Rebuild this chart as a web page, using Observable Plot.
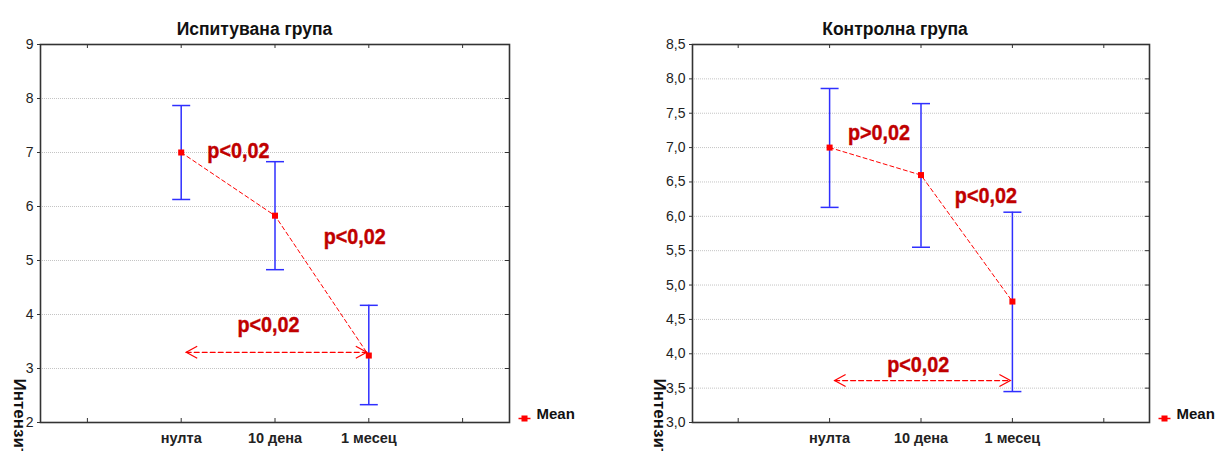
<!DOCTYPE html>
<html><head><meta charset="utf-8">
<script src="https://cdn.jsdelivr.net/npm/d3@7"></script>
<script src="https://cdn.jsdelivr.net/npm/@observablehq/plot@0.6"></script>
<style>
body{margin:0;background:#fff;}
#wrap{display:flex;width:1215px;height:451px;overflow:hidden;}
</style></head><body><div id="wrap"></div>
<script>
// ---- data ----
const categories = ["нулта", "10 дена", "1 месец"];
const xTickSlots = [0, 1, 2, 3, 4];

const leftTitle = "Испитувана група";
const leftMeans = [7.0, 5.83, 3.24];
const leftUpper = [7.87, 6.83, 4.17];
const leftLower = [6.13, 4.83, 2.33];
const leftYTicks = [2, 3, 4, 5, 6, 7, 8, 9];
const leftPLabels = ["p<0,02", "p<0,02", "p<0,02"];
const leftPX = [1.61, 2.85, 1.93];
const leftPY = [7.03, 5.43, 3.80];
const leftArrowY = 3.30;

const rightTitle = "Контролна група";
const rightMeans = [7.0, 6.6, 4.76];
const rightUpper = [7.86, 7.64, 6.06];
const rightLower = [6.13, 5.55, 3.45];
const rightYTicks = [3.0, 3.5, 4.0, 4.5, 5.0, 5.5, 6.0, 6.5, 7.0, 7.5, 8.0, 8.5];
const rightPLabels = ["p>0,02", "p<0,02", "p<0,02"];
const rightPX = [1.54, 2.71, 1.97];
const rightPY = [7.22, 6.29, 3.84];
const rightArrowY = 3.61;

const yLabel = "Интензитет";
const legendLabel = "Mean";

// ---- styles ----
const BLUE = "#2f2fff", RED = "#ff0000", DARKRED = "#c00000";
const FONT = "'Liberation Sans', Arial, sans-serif";

const capSymbol = {draw(ctx) { ctx.moveTo(-9, 0); ctx.lineTo(9, 0); }};
const headLeft = {draw(ctx) { ctx.moveTo(11, -6); ctx.lineTo(0, 0); ctx.lineTo(11, 6); }};
const headRight = {draw(ctx) { ctx.moveTo(-11, -6); ctx.lineTo(0, 0); ctx.lineTo(-11, 6); }};
const legendLine = {draw(ctx) { ctx.moveTo(-6, 0); ctx.lineTo(6, 0); }};

function panel(cfg) {
  const H = 451, mt = 44, mb = 29;
  const fw = cfg.width - cfg.ml - cfg.mr, fh = H - mt - mb;
  const rows = categories.map((c, i) => ({x: i + 1, mean: cfg.means[i], lo: cfg.lower[i], hi: cfg.upper[i]}));
  const labels = cfg.pLabels.map((t, i) => ({t, x: cfg.pX[i], y: cfg.pY[i]}));
  const y0 = cfg.yTicks[0], y1 = cfg.yTicks[cfg.yTicks.length - 1];
  const inner = cfg.yTicks.slice(1, -1);
  const arrow = [{x1: 1, x2: categories.length, y: cfg.arrowY}];
  const svg = Plot.plot({
    width: cfg.width, height: H,
    marginLeft: cfg.ml, marginRight: cfg.mr, marginTop: mt, marginBottom: mb,
    style: {fontFamily: FONT, fontSize: "14px", color: "#222", background: "#fff", overflow: "visible"},
    x: {domain: [-0.5, 4.5]},
    y: {domain: [y0, y1]},
    marks: [
      Plot.gridY(inner, {stroke: "#c4c4c4", strokeOpacity: 1, strokeDasharray: "1,1"}),
      Plot.axisY(cfg.yTicks, {tickSize: 3, tickPadding: 4, tickFormat: cfg.fmt, label: null, stroke: "#333", fontSize: 14}),
      Plot.axisX(xTickSlots, {tickSize: 0, tickPadding: 10, label: null, fontWeight: "bold", fontSize: 14.5,
        tickFormat: d => categories[d - 1] ?? ""}),
      Plot.tickX(xTickSlots, {x: d => d, insetTop: fh - 4, stroke: "#333"}),
      Plot.tickX(xTickSlots, {x: d => d, insetBottom: fh - 4, stroke: "#333"}),
      Plot.tickY(inner, {y: d => d, insetLeft: fw - 4, stroke: "#333"}),
      Plot.frame({stroke: "#333", strokeWidth: 1.6}),
      // error bars
      Plot.ruleX(rows, {x: "x", y1: "lo", y2: "hi", stroke: BLUE, strokeWidth: 1.5}),
      Plot.dot(rows, {x: "x", y: "hi", symbol: capSymbol, fill: "none", stroke: BLUE, strokeWidth: 1.5}),
      Plot.dot(rows, {x: "x", y: "lo", symbol: capSymbol, fill: "none", stroke: BLUE, strokeWidth: 1.5}),
      // mean line
      Plot.line(rows, {x: "x", y: "mean", stroke: RED, strokeWidth: 1, strokeDasharray: "4,3"}),
      // double arrow
      Plot.arrow(arrow, {x1: "x1", x2: "x2", y1: "y", y2: "y", headLength: 0, insetStart: 5, insetEnd: 2,
        stroke: RED, strokeWidth: 1.2, strokeDasharray: "5,3"}),
      Plot.dot(arrow, {x: "x1", y: "y", dx: 5, symbol: headLeft, fill: "none", stroke: RED, strokeWidth: 1.2}),
      Plot.dot(arrow, {x: "x2", y: "y", dx: -2, symbol: headRight, fill: "none", stroke: RED, strokeWidth: 1.2}),
      Plot.dot(rows, {x: "x", y: "mean", symbol: "square", r: 3.4, fill: RED}),
      // p labels (condensed bold)
      Plot.text(labels, {x: "x", y: "y", text: "t", fill: DARKRED, fontWeight: "bold", fontSize: 22,
        stroke: DARKRED, strokeWidth: 0.4}),
      // title
      Plot.text([cfg.title], {frameAnchor: "top", dx: cfg.titleDx, dy: -22, fontWeight: "bold", fontSize: 17.5, fill: "#111"}),
      // y label
      Plot.text([yLabel], {frameAnchor: "bottom-left", dx: cfg.ylDx, dy: -44, rotate: 90, textAnchor: "start",
        lineAnchor: "middle", fontWeight: "bold", fontSize: 17, fill: "#111"}),
      // legend
      Plot.dot([legendLabel], {frameAnchor: "bottom-right", dx: cfg.legDx, dy: -4, symbol: legendLine,
        fill: "none", stroke: RED, strokeWidth: 1.5}),
      Plot.dot([legendLabel], {frameAnchor: "bottom-right", dx: cfg.legDx, dy: -4, symbol: "square", r: 3.4, fill: RED}),
      Plot.text([legendLabel], {frameAnchor: "bottom-right", dx: cfg.legDx + 12, dy: -4, textAnchor: "start",
        fontWeight: "bold", fontSize: 15, fill: "#111"})
    ]
  });
  // condense the p-value labels horizontally (no narrow font installed)
  svg.querySelectorAll('g[font-size="22"] text').forEach(t => {
    const tr = t.getAttribute("transform") || "";
    t.setAttribute("transform", tr + " scale(0.9,1)");
  });
  return svg;
}

const wrap = document.getElementById("wrap");
wrap.append(panel({
  width: 607, ml: 40, mr: 98, title: leftTitle, titleDx: -20.5, ylDx: -21, legDx: 15,
  means: leftMeans, upper: leftUpper, lower: leftLower, yTicks: leftYTicks, fmt: d => String(d),
  pLabels: leftPLabels, pX: leftPX, pY: leftPY, arrowY: leftArrowY
}));
wrap.append(panel({
  width: 608, ml: 85, mr: 66, title: rightTitle, titleDx: -26, ylDx: -33, legDx: 15,
  means: rightMeans, upper: rightUpper, lower: rightLower, yTicks: rightYTicks,
  fmt: d => d.toFixed(1).replace(".", ","),
  pLabels: rightPLabels, pX: rightPX, pY: rightPY, arrowY: rightArrowY
}));
</script></body></html>
